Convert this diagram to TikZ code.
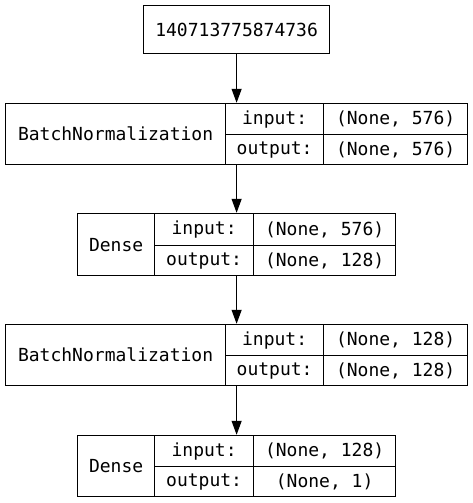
\documentclass[tikz,border=0pt]{standalone}
\usepackage{fontspec}
\setmonofont{DejaVu Sans Mono}
\usetikzlibrary{arrows.meta,fit}
\newcommand{\fnt}{\ttfamily\fontsize{18}{22}\selectfont}
\begin{document}
\begin{tikzpicture}[x=1pt,y=-1pt,
  cell/.style={draw, line width=1.2pt, inner sep=0pt, anchor=north west, font=\fnt},
  conn/.style={line width=1.2pt, -{Triangle[length=14pt,width=10pt]}}]
\useasboundingbox[fill=white] (0,0) rectangle (472,503);
% top node
\node[cell, minimum width=186pt, minimum height=48pt] (top) at (143,5) {140713775874736};
% layer 1
\node[cell, minimum width=220pt, minimum height=61pt] (n1) at (5,103) {BatchNormalization};
\node[cell, minimum width=98pt, minimum height=31pt] (i1) at (225,103) {input:};
\node[cell, minimum width=144pt, minimum height=31pt] (s1) at (323,103) {(None, 576)};
\node[cell, minimum width=98pt, minimum height=30pt] (o1) at (225,134) {output:};
\node[cell, minimum width=144pt, minimum height=30pt] (t1) at (323,134) {(None, 576)};
% layer 2
\node[cell, minimum width=77pt, minimum height=62pt] (n2) at (77,213) {Dense};
\node[cell, minimum width=99pt, minimum height=32pt] (i2) at (154,213) {input:};
\node[cell, minimum width=142pt, minimum height=32pt] (s2) at (253,213) {(None, 576)};
\node[cell, minimum width=99pt, minimum height=30pt] (o2) at (154,245) {output:};
\node[cell, minimum width=142pt, minimum height=30pt] (t2) at (253,245) {(None, 128)};
% layer 3
\node[cell, minimum width=220pt, minimum height=61pt] (n3) at (5,324) {BatchNormalization};
\node[cell, minimum width=98pt, minimum height=31pt] (i3) at (225,324) {input:};
\node[cell, minimum width=144pt, minimum height=31pt] (s3) at (323,324) {(None, 128)};
\node[cell, minimum width=98pt, minimum height=30pt] (o3) at (225,355) {output:};
\node[cell, minimum width=144pt, minimum height=30pt] (t3) at (323,355) {(None, 128)};
% layer 4
\node[cell, minimum width=77pt, minimum height=61pt] (n4) at (77,435) {Dense};
\node[cell, minimum width=99pt, minimum height=31pt] (i4) at (154,435) {input:};
\node[cell, minimum width=142pt, minimum height=31pt] (s4) at (253,435) {(None, 128)};
\node[cell, minimum width=99pt, minimum height=30pt] (o4) at (154,466) {output:};
\node[cell, minimum width=142pt, minimum height=30pt] (t4) at (253,466) {(None, 1)};
% layer frames
\node[fit=(n1)(t1), inner sep=0pt] (L1) {};
\node[fit=(n2)(t2), inner sep=0pt] (L2) {};
\node[fit=(n3)(t3), inner sep=0pt] (L3) {};
\node[fit=(n4)(t4), inner sep=0pt] (L4) {};
% connectors
\draw[conn] (top.south) -- (top.south |- L1.north);
\draw[conn] (top.south |- L1.south) -- (top.south |- L2.north);
\draw[conn] (top.south |- L2.south) -- (top.south |- L3.north);
\draw[conn] (top.south |- L3.south) -- (top.south |- L4.north);
\end{tikzpicture}
\end{document}
